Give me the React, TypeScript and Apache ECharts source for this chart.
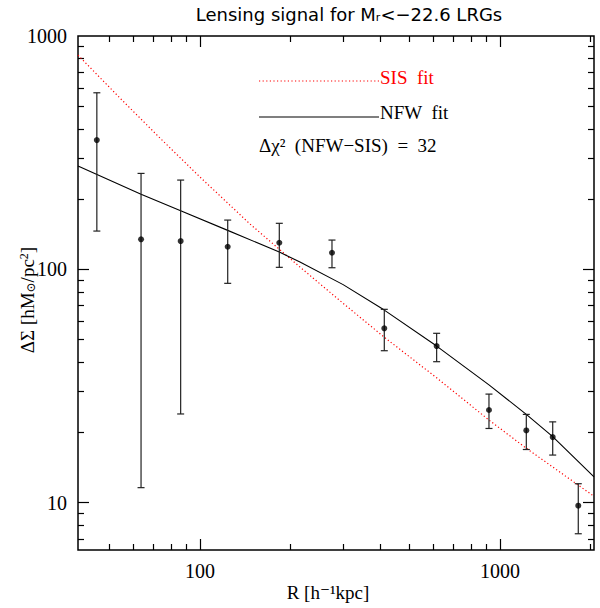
import React, { useEffect, useRef } from 'react';
import * as echarts from 'echarts';

// ---- data ----
const radius = [45.3, 63.6, 86.2, 123.7, 183.8, 275.4, 411.5, 615, 919, 1224, 1499, 1824];
const deltaSigma = [358, 134.5, 132.2, 125, 130, 117.8, 55.9, 46.9, 24.96, 20.4, 19.1, 9.71];
const errLow = [145.9, 11.6, 24.0, 87.1, 102, 101.6, 44.8, 40.2, 20.8, 16.9, 16.0, 7.36];
const errHigh = [571, 257.7, 241.3, 162.6, 157.5, 133.5, 67.4, 53.2, 29.2, 23.9, 22.2, 12.06];

const nfwR = [39.2, 63.6, 86.2, 123.7, 183.8, 215.4, 300, 411.5, 615, 919, 1224, 1499, 2058];
const nfwSigma = [277, 210, 178.3, 146.9, 118.6, 107.5, 86, 66.9, 46.9, 32.0, 23.9, 19.2, 12.9];

const sisR = [39.2, 54.1, 73.6, 100, 146.8, 215.4, 300, 410.6, 616.6, 919, 1221, 2058];
const sisSigma = [828, 542, 365, 248.6, 156.4, 102.3, 71.5, 51.3, 34.2, 22.6, 17.15, 10.65];

const X_MIN = 39.2;
const X_MAX = 2058;
const Y_MIN = 6.27;
const Y_MAX = 1000;

const xMajorTicks = [100, 1000];
const xMinorTicks = [50, 60, 70, 80, 90, 200, 300, 400, 500, 600, 700, 800, 900, 2000];
const yMajorTicks = [10, 100];
const yMinorTicks = [7, 8, 9, 20, 30, 40, 50, 60, 70, 80, 90, 200, 300, 400, 500, 600, 700, 800, 900];

const SERIF = '"Liberation Serif", "DejaVu Serif", serif';
const SANS = '"DejaVu Sans", "Liberation Sans", sans-serif';

const GRID = { left: 78, right: 6, top: 36, bottom: 58 };
const W = 600;
const H = 608;

const isPow10 = (v: number) => {
  const l = Math.log10(v);
  return Math.abs(l - Math.round(l)) < 1e-6;
};

const labelCommon = {
  margin: 11,
  color: '#000',
  fontFamily: SERIF,
  fontSize: 20,
  formatter: (v: number) => (isPow10(v) ? String(Math.round(v)) : ''),
};

function logAxis(
  min: number,
  max: number,
  position: string,
  ticks: number[],
  len: number,
  withLabels: boolean,
  hideMin: boolean,
  hideMax: boolean
) {
  return {
    type: 'log',
    logBase: 10,
    gridIndex: 0,
    min,
    max,
    position,
    axisLine: { show: false, onZero: false },
    splitLine: { show: false },
    minorTick: { show: false },
    axisTick: {
      show: true,
      inside: true,
      length: len,
      customValues: ticks,
      lineStyle: { color: '#000', width: 1.2 },
    },
    axisLabel: withLabels
      ? { ...labelCommon, showMinLabel: !hideMin, showMaxLabel: !hideMax }
      : { show: false },
  };
}

export default function App() {
  const ref = useRef<HTMLDivElement>(null);
  useEffect(() => {
    document.body.style.margin = '0';
    const chart = echarts.init(ref.current!, null, { renderer: 'svg' });

    const option: any = {
      animation: false,
      backgroundColor: '#fff',
      grid: {
        ...GRID,
        show: true,
        borderColor: '#000',
        borderWidth: 1.5,
        backgroundColor: 'transparent',
      },
      xAxis: [
        logAxis(X_MIN, X_MAX, 'bottom', xMajorTicks, 11, true, true, true),
        logAxis(X_MIN, X_MAX, 'top', xMajorTicks, 11, false, true, true),
        logAxis(X_MIN, X_MAX, 'bottom', xMinorTicks, 6, false, true, true),
        logAxis(X_MIN, X_MAX, 'top', xMinorTicks, 6, false, true, true),
      ],
      yAxis: [
        logAxis(Y_MIN, Y_MAX, 'left', yMajorTicks, 11, true, true, false),
        logAxis(Y_MIN, Y_MAX, 'right', yMajorTicks, 11, false, true, false),
        logAxis(Y_MIN, Y_MAX, 'left', yMinorTicks, 6, false, true, false),
        logAxis(Y_MIN, Y_MAX, 'right', yMinorTicks, 6, false, true, false),
      ],
      series: [
        {
          name: 'SIS fit',
          type: 'line',
          xAxisIndex: 0,
          yAxisIndex: 0,
          data: sisR.map((r, i) => [r, sisSigma[i]]),
          showSymbol: false,
          lineStyle: { color: '#ff0000', width: 1.2, type: [1.2, 2.4] },
          z: 3,
        },
        {
          name: 'NFW fit',
          type: 'line',
          xAxisIndex: 0,
          yAxisIndex: 0,
          data: nfwR.map((r, i) => [r, nfwSigma[i]]),
          showSymbol: false,
          lineStyle: { color: '#000', width: 1.1 },
          z: 3,
        },
        {
          name: 'errors',
          type: 'custom',
          xAxisIndex: 0,
          yAxisIndex: 0,
          z: 4,
          data: radius.map((r, i) => [r, errLow[i], errHigh[i]]),
          encode: { x: 0, y: [1, 2] },
          renderItem: (_p: any, api: any) => {
            const lo = api.coord([api.value(0), api.value(1)]);
            const hi = api.coord([api.value(0), api.value(2)]);
            const st = { stroke: '#222', lineWidth: 1.2 };
            const w = 3.5;
            return {
              type: 'group',
              children: [
                { type: 'line', shape: { x1: lo[0], y1: lo[1], x2: hi[0], y2: hi[1] }, style: st },
                { type: 'line', shape: { x1: lo[0] - w, y1: lo[1], x2: lo[0] + w, y2: lo[1] }, style: st },
                { type: 'line', shape: { x1: hi[0] - w, y1: hi[1], x2: hi[0] + w, y2: hi[1] }, style: st },
              ],
            };
          },
        },
        {
          name: 'data',
          type: 'scatter',
          xAxisIndex: 0,
          yAxisIndex: 0,
          z: 6,
          data: radius.map((r, i) => [r, deltaSigma[i]]),
          symbol: 'circle',
          symbolSize: 6,
          itemStyle: { color: '#000' },
        },
      ],
      graphic: [
        {
          type: 'text',
          x: 349,
          y: 14,
          style: {
            text: 'Lensing signal for M{s|r}<−22.6 LRGs',
            fontFamily: SANS,
            fontSize: 18,
            fill: '#000',
            align: 'center',
            verticalAlign: 'middle',
            rich: {
              s: { fontFamily: SANS, fontSize: 11, verticalAlign: 'bottom', lineHeight: 10, padding: [10, 0, 0, 0], fill: '#000' },
            },
          },
        },
        {
          type: 'text',
          x: 328,
          y: 592,
          style: { text: 'R [h⁻¹kpc]', fontFamily: SERIF, fontSize: 19, fill: '#000', align: 'center', verticalAlign: 'middle' },
        },
        {
          type: 'text',
          x: 27,
          y: 300,
          rotation: Math.PI / 2,
          style: {
            text: 'ΔΣ [hM{sub|⊙}/pc{sup|2}]',
            fontFamily: SERIF,
            fontSize: 19,
            fill: '#000',
            align: 'center',
            verticalAlign: 'middle',
            rich: {
              sub: { fontFamily: SERIF, fontSize: 12, verticalAlign: 'bottom', lineHeight: 12, fill: '#000' },
              sup: { fontFamily: SERIF, fontSize: 12, verticalAlign: 'top', lineHeight: 12, fill: '#000' },
            },
          },
        },
        {
          type: 'line',
          shape: { x1: 259, y1: 81, x2: 380, y2: 81 },
          style: { stroke: '#ff0000', lineWidth: 1.2, lineDash: [1.2, 2.4] },
        },
        {
          type: 'text',
          x: 380,
          y: 77,
          style: { text: 'SIS  fit', fontFamily: SERIF, fontSize: 19, fill: '#ff0000', align: 'left', verticalAlign: 'middle' },
        },
        {
          type: 'line',
          shape: { x1: 259, y1: 117, x2: 379, y2: 117 },
          style: { stroke: '#000', lineWidth: 1.1 },
        },
        {
          type: 'text',
          x: 380,
          y: 112,
          style: { text: 'NFW  fit', fontFamily: SERIF, fontSize: 19, fill: '#000', align: 'left', verticalAlign: 'middle' },
        },
        {
          type: 'text',
          x: 259,
          y: 145,
          style: { text: 'Δχ²  (NFW−SIS)  =  32', fontFamily: SERIF, fontSize: 19, fill: '#000', align: 'left', verticalAlign: 'middle' },
        },
      ],
    };
    chart.setOption(option);
    return () => chart.dispose();
  }, []);
  return <div ref={ref} style={{ width: W, height: H }} />;
}
